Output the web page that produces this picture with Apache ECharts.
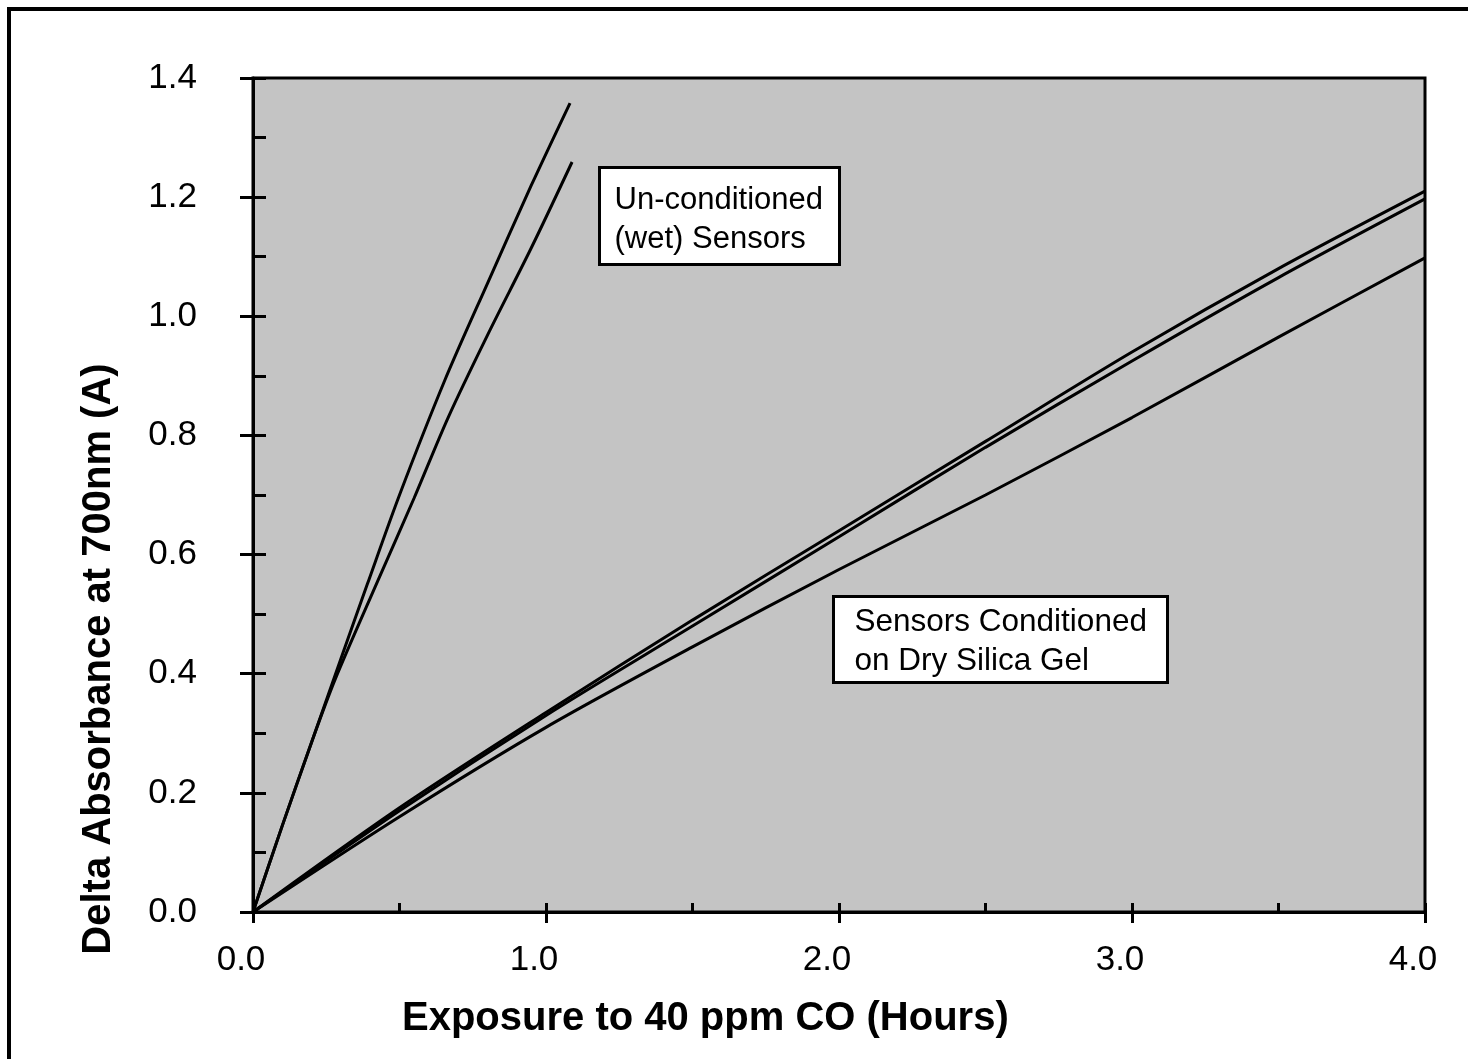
<!DOCTYPE html>
<html>
<head>
<meta charset="utf-8">
<script src="https://cdn.jsdelivr.net/npm/echarts@6/dist/echarts.min.js"></script>
<style>
  html, body { margin: 0; padding: 0; background: #ffffff; }
  #chart { width: 1468px; height: 1059px; }
</style>
</head>
<body>
<div id="chart"></div>
<script>
// Exposure time (hours) and delta absorbance at 700 nm for each sensor trace
const wetAX = [0, 0.1, 0.2, 0.3, 0.39, 0.5, 0.655, 0.8, 0.95, 1.082];
const wetAY = [0, 0.145, 0.285, 0.425, 0.55, 0.70, 0.893, 1.055, 1.22, 1.358];
const wetBX = [0, 0.1, 0.2, 0.28, 0.427, 0.55, 0.666, 0.8, 0.95, 1.089];
const wetBY = [0, 0.145, 0.285, 0.39, 0.557, 0.695, 0.83, 0.968, 1.115, 1.259];

const dryX  = [0, 0.5, 1.0, 1.5, 2.0, 2.5, 3.0, 3.5, 4.0];
const dry1Y = [0, 0.175, 0.335, 0.49, 0.64, 0.79, 0.94, 1.08, 1.21];
const dry2Y = [0, 0.17, 0.33, 0.48, 0.63, 0.78, 0.925, 1.065, 1.197];
const dry3Y = [0, 0.16, 0.31, 0.445, 0.575, 0.70, 0.83, 0.965, 1.098];

const xTicks = ['0.0', '1.0', '2.0', '3.0', '4.0'];
const yTicks = ['0.0', '0.2', '0.4', '0.6', '0.8', '1.0', '1.2', '1.4'];

const FONT = '"Liberation Sans", Arial, Helvetica, sans-serif';

function pairs(xs, ys) { return xs.map((x, i) => [x, ys[i]]); }

function trace(name, xs, ys) {
  return {
    name: name,
    type: 'line',
    xAxisIndex: 0,
    yAxisIndex: 0,
    data: pairs(xs, ys),
    showSymbol: false,
    smooth: 0.3,
    lineStyle: { color: '#000', width: 3 },
    silent: true,
    z: 5
  };
}

const chart = echarts.init(document.getElementById('chart'), null, { renderer: 'canvas' });

const option = {
  animation: false,
  backgroundColor: '#ffffff',
  grid: {
    left: 253, top: 78, right: 43, bottom: 147,
    show: true,
    backgroundColor: '#c4c4c4',
    borderColor: '#000',
    borderWidth: 3
  },
  xAxis: [
    {
      type: 'value', min: 0, max: 4, interval: 1,
      axisLine: { show: true, lineStyle: { color: '#000', width: 3 } },
      axisTick: { show: true, inside: false, length: 11, lineStyle: { color: '#000', width: 3 } },
      axisLabel: {
        show: true, margin: 31, fontSize: 35, color: '#000', fontFamily: FONT,
        padding: [0, 24, 0, 0],
        formatter: v => xTicks[Math.round(v)]
      },
      splitLine: { show: false }
    },
    {
      type: 'value', min: 0, max: 4, interval: 0.5, position: 'bottom',
      axisLine: { show: false },
      axisTick: { show: true, inside: true, length: 9, lineStyle: { color: '#000', width: 3 } },
      axisLabel: { show: false },
      splitLine: { show: false }
    }
  ],
  yAxis: [
    {
      type: 'value', min: 0, max: 1.4, interval: 0.2,
      axisLine: { show: true, lineStyle: { color: '#000', width: 3 } },
      axisTick: { show: true, inside: false, length: 13, lineStyle: { color: '#000', width: 3 } },
      axisLabel: {
        show: true, margin: 56, fontSize: 35, color: '#000', fontFamily: FONT,
        formatter: v => yTicks[Math.round(v / 0.2)]
      },
      splitLine: { show: false }
    },
    {
      type: 'value', min: 0, max: 1.4, interval: 0.1, position: 'left',
      axisLine: { show: false },
      axisTick: { show: true, inside: true, length: 13, lineStyle: { color: '#000', width: 3 } },
      axisLabel: { show: false },
      splitLine: { show: false }
    }
  ],
  series: [
    trace('Un-conditioned A', wetAX, wetAY),
    trace('Un-conditioned B', wetBX, wetBY),
    trace('Dry silica gel 1', dryX, dry1Y),
    trace('Dry silica gel 2', dryX, dry2Y),
    trace('Dry silica gel 3', dryX, dry3Y)
  ],
  graphic: [
    // outer frame (top and left edges)
    { type: 'line', shape: { x1: 7, y1: 9, x2: 1468, y2: 9 }, style: { stroke: '#000', lineWidth: 4 }, z: 20 },
    { type: 'line', shape: { x1: 9, y1: 7, x2: 9, y2: 1059 }, style: { stroke: '#000', lineWidth: 4 }, z: 20 },
    // axis titles
    {
      type: 'text', left: 402, top: 999, z: 20,
      style: { text: 'Exposure to 40 ppm CO (Hours)', font: 'bold 40px ' + FONT, fill: '#000' }
    },
    {
      type: 'text', x: 99, y: 659, rotation: Math.PI / 2, z: 20,
      style: { text: 'Delta Absorbance at 700nm (A)', font: 'bold 40px ' + FONT, fill: '#000',
               align: 'center', verticalAlign: 'middle' }
    },
    // annotation boxes
    {
      type: 'group', left: 598, top: 166, z: 30,
      children: [
        { type: 'rect', shape: { x: 0, y: 0, width: 240, height: 97 },
          style: { fill: '#fff', stroke: '#000', lineWidth: 3 } },
        { type: 'text', x: 15, y: 13,
          style: { text: 'Un-conditioned\n(wet) Sensors', font: '31px ' + FONT, fill: '#000', lineHeight: 39 } }
      ]
    },
    {
      type: 'group', left: 832, top: 595, z: 30,
      children: [
        { type: 'rect', shape: { x: 0, y: 0, width: 334, height: 86 },
          style: { fill: '#fff', stroke: '#000', lineWidth: 3 } },
        { type: 'text', x: 21, y: 6,
          style: { text: 'Sensors Conditioned\non Dry Silica Gel', font: '31.5px ' + FONT, fill: '#000', lineHeight: 39 } }
      ]
    }
  ]
};

chart.setOption(option);
</script>
</body>
</html>
